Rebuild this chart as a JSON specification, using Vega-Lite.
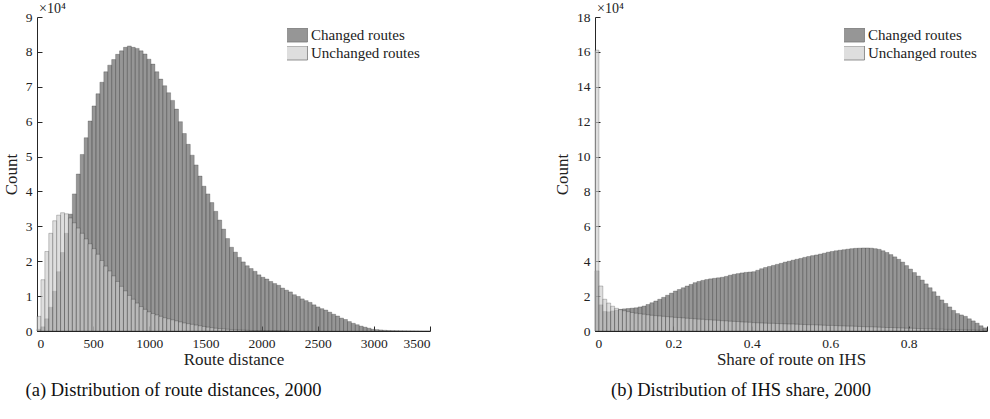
{
"$schema": "https://vega.github.io/schema/vega-lite/v6.json",
"background": "white",
"padding": {"left": 2, "top": 2, "right": 0, "bottom": 2},
"config": {
  "font": "Liberation Serif",
  "view": {"stroke": null},
  "axis": {"grid": false, "domainColor": "#262626", "tickColor": "#262626", "labelColor": "#222222", "titleColor": "#222222", "labelFont": "Liberation Serif", "titleFont": "Liberation Serif", "labelFontSize": 13.5, "titleFontSize": 17, "titleFontWeight": "normal", "tickSize": -5, "domainWidth": 1, "tickWidth": 1, "labelPadding": 10, "labelOverlap": false},
  "legend": {"labelFont": "Liberation Serif", "labelFontSize": 15, "labelColor": "#222222", "symbolType": "M-1.857,-1H1.857V1H-1.857Z", "symbolSize": 196, "symbolOpacity": 0.65, "symbolStrokeColor": "#333333", "symbolStrokeWidth": 0.8, "labelOffset": 9, "rowPadding": 3, "clipHeight": 14, "title": null, "orient": "none"},
  "title": {"font": "Liberation Serif", "fontSize": 18.5, "fontWeight": "normal", "color": "#111111"}
},
"datasets": {
"da": [
{"s":"Changed routes","lo":0,"hi":35,"n":500},
{"s":"Changed routes","lo":35,"hi":70,"n":1200},
{"s":"Changed routes","lo":70,"hi":105,"n":3500},
{"s":"Changed routes","lo":105,"hi":140,"n":6800},
{"s":"Changed routes","lo":140,"hi":175,"n":11400},
{"s":"Changed routes","lo":175,"hi":210,"n":17000},
{"s":"Changed routes","lo":210,"hi":245,"n":22500},
{"s":"Changed routes","lo":245,"hi":280,"n":28000},
{"s":"Changed routes","lo":280,"hi":315,"n":33500},
{"s":"Changed routes","lo":315,"hi":350,"n":39300},
{"s":"Changed routes","lo":350,"hi":385,"n":45000},
{"s":"Changed routes","lo":385,"hi":420,"n":50600},
{"s":"Changed routes","lo":420,"hi":455,"n":55400},
{"s":"Changed routes","lo":455,"hi":490,"n":60200},
{"s":"Changed routes","lo":490,"hi":525,"n":64500},
{"s":"Changed routes","lo":525,"hi":560,"n":68000},
{"s":"Changed routes","lo":560,"hi":595,"n":71300},
{"s":"Changed routes","lo":595,"hi":630,"n":74300},
{"s":"Changed routes","lo":630,"hi":665,"n":76200},
{"s":"Changed routes","lo":665,"hi":700,"n":77800},
{"s":"Changed routes","lo":700,"hi":735,"n":79300},
{"s":"Changed routes","lo":735,"hi":770,"n":80300},
{"s":"Changed routes","lo":770,"hi":805,"n":81300},
{"s":"Changed routes","lo":805,"hi":840,"n":81700},
{"s":"Changed routes","lo":840,"hi":875,"n":81300},
{"s":"Changed routes","lo":875,"hi":910,"n":81000},
{"s":"Changed routes","lo":910,"hi":945,"n":80300},
{"s":"Changed routes","lo":945,"hi":980,"n":79400},
{"s":"Changed routes","lo":980,"hi":1015,"n":77900},
{"s":"Changed routes","lo":1015,"hi":1050,"n":76500},
{"s":"Changed routes","lo":1050,"hi":1085,"n":74300},
{"s":"Changed routes","lo":1085,"hi":1120,"n":72200},
{"s":"Changed routes","lo":1120,"hi":1155,"n":70300},
{"s":"Changed routes","lo":1155,"hi":1190,"n":68300},
{"s":"Changed routes","lo":1190,"hi":1225,"n":66100},
{"s":"Changed routes","lo":1225,"hi":1260,"n":63600},
{"s":"Changed routes","lo":1260,"hi":1295,"n":60000},
{"s":"Changed routes","lo":1295,"hi":1330,"n":56600},
{"s":"Changed routes","lo":1330,"hi":1365,"n":53500},
{"s":"Changed routes","lo":1365,"hi":1400,"n":50400},
{"s":"Changed routes","lo":1400,"hi":1435,"n":47600},
{"s":"Changed routes","lo":1435,"hi":1470,"n":44400},
{"s":"Changed routes","lo":1470,"hi":1505,"n":41500},
{"s":"Changed routes","lo":1505,"hi":1540,"n":39300},
{"s":"Changed routes","lo":1540,"hi":1575,"n":36800},
{"s":"Changed routes","lo":1575,"hi":1610,"n":34300},
{"s":"Changed routes","lo":1610,"hi":1645,"n":31800},
{"s":"Changed routes","lo":1645,"hi":1680,"n":29200},
{"s":"Changed routes","lo":1680,"hi":1715,"n":26500},
{"s":"Changed routes","lo":1715,"hi":1750,"n":24000},
{"s":"Changed routes","lo":1750,"hi":1785,"n":22600},
{"s":"Changed routes","lo":1785,"hi":1820,"n":21100},
{"s":"Changed routes","lo":1820,"hi":1855,"n":19800},
{"s":"Changed routes","lo":1855,"hi":1890,"n":18700},
{"s":"Changed routes","lo":1890,"hi":1925,"n":17900},
{"s":"Changed routes","lo":1925,"hi":1960,"n":17100},
{"s":"Changed routes","lo":1960,"hi":1995,"n":16100},
{"s":"Changed routes","lo":1995,"hi":2030,"n":15400},
{"s":"Changed routes","lo":2030,"hi":2065,"n":14900},
{"s":"Changed routes","lo":2065,"hi":2100,"n":14200},
{"s":"Changed routes","lo":2100,"hi":2135,"n":13600},
{"s":"Changed routes","lo":2135,"hi":2170,"n":13100},
{"s":"Changed routes","lo":2170,"hi":2205,"n":12300},
{"s":"Changed routes","lo":2205,"hi":2240,"n":11700},
{"s":"Changed routes","lo":2240,"hi":2275,"n":11200},
{"s":"Changed routes","lo":2275,"hi":2310,"n":10400},
{"s":"Changed routes","lo":2310,"hi":2345,"n":9900},
{"s":"Changed routes","lo":2345,"hi":2380,"n":9200},
{"s":"Changed routes","lo":2380,"hi":2415,"n":8700},
{"s":"Changed routes","lo":2415,"hi":2450,"n":8200},
{"s":"Changed routes","lo":2450,"hi":2485,"n":7500},
{"s":"Changed routes","lo":2485,"hi":2520,"n":6900},
{"s":"Changed routes","lo":2520,"hi":2555,"n":6400},
{"s":"Changed routes","lo":2555,"hi":2590,"n":6000},
{"s":"Changed routes","lo":2590,"hi":2625,"n":5400},
{"s":"Changed routes","lo":2625,"hi":2660,"n":4800},
{"s":"Changed routes","lo":2660,"hi":2695,"n":4300},
{"s":"Changed routes","lo":2695,"hi":2730,"n":3700},
{"s":"Changed routes","lo":2730,"hi":2765,"n":3300},
{"s":"Changed routes","lo":2765,"hi":2800,"n":2700},
{"s":"Changed routes","lo":2800,"hi":2835,"n":2200},
{"s":"Changed routes","lo":2835,"hi":2870,"n":1800},
{"s":"Changed routes","lo":2870,"hi":2905,"n":1400},
{"s":"Changed routes","lo":2905,"hi":2940,"n":1100},
{"s":"Changed routes","lo":2940,"hi":2975,"n":800},
{"s":"Changed routes","lo":2975,"hi":3010,"n":500},
{"s":"Changed routes","lo":3010,"hi":3045,"n":400},
{"s":"Changed routes","lo":3045,"hi":3080,"n":300},
{"s":"Changed routes","lo":3080,"hi":3115,"n":200},
{"s":"Changed routes","lo":3115,"hi":3150,"n":150},
{"s":"Changed routes","lo":3150,"hi":3185,"n":120},
{"s":"Changed routes","lo":3185,"hi":3220,"n":100},
{"s":"Changed routes","lo":3220,"hi":3255,"n":80},
{"s":"Changed routes","lo":3255,"hi":3290,"n":60},
{"s":"Changed routes","lo":3290,"hi":3325,"n":50},
{"s":"Changed routes","lo":3325,"hi":3360,"n":40},
{"s":"Changed routes","lo":3360,"hi":3395,"n":30},
{"s":"Changed routes","lo":3395,"hi":3430,"n":20},
{"s":"Changed routes","lo":3430,"hi":3465,"n":10},
{"s":"Changed routes","lo":3465,"hi":3500,"n":10},
{"s":"Unchanged routes","lo":0,"hi":35,"n":4200},
{"s":"Unchanged routes","lo":35,"hi":70,"n":14700},
{"s":"Unchanged routes","lo":70,"hi":105,"n":22800},
{"s":"Unchanged routes","lo":105,"hi":140,"n":28000},
{"s":"Unchanged routes","lo":140,"hi":175,"n":31600},
{"s":"Unchanged routes","lo":175,"hi":210,"n":33200},
{"s":"Unchanged routes","lo":210,"hi":245,"n":33900},
{"s":"Unchanged routes","lo":245,"hi":280,"n":33600},
{"s":"Unchanged routes","lo":280,"hi":315,"n":32400},
{"s":"Unchanged routes","lo":315,"hi":350,"n":31000},
{"s":"Unchanged routes","lo":350,"hi":385,"n":29500},
{"s":"Unchanged routes","lo":385,"hi":420,"n":28000},
{"s":"Unchanged routes","lo":420,"hi":455,"n":26400},
{"s":"Unchanged routes","lo":455,"hi":490,"n":25000},
{"s":"Unchanged routes","lo":490,"hi":525,"n":23600},
{"s":"Unchanged routes","lo":525,"hi":560,"n":22000},
{"s":"Unchanged routes","lo":560,"hi":595,"n":20200},
{"s":"Unchanged routes","lo":595,"hi":630,"n":18600},
{"s":"Unchanged routes","lo":630,"hi":665,"n":17200},
{"s":"Unchanged routes","lo":665,"hi":700,"n":15800},
{"s":"Unchanged routes","lo":700,"hi":735,"n":14200},
{"s":"Unchanged routes","lo":735,"hi":770,"n":12800},
{"s":"Unchanged routes","lo":770,"hi":805,"n":11500},
{"s":"Unchanged routes","lo":805,"hi":840,"n":10200},
{"s":"Unchanged routes","lo":840,"hi":875,"n":9100},
{"s":"Unchanged routes","lo":875,"hi":910,"n":8000},
{"s":"Unchanged routes","lo":910,"hi":945,"n":7000},
{"s":"Unchanged routes","lo":945,"hi":980,"n":6200},
{"s":"Unchanged routes","lo":980,"hi":1015,"n":5500},
{"s":"Unchanged routes","lo":1015,"hi":1050,"n":5000},
{"s":"Unchanged routes","lo":1050,"hi":1085,"n":4600},
{"s":"Unchanged routes","lo":1085,"hi":1120,"n":4200},
{"s":"Unchanged routes","lo":1120,"hi":1155,"n":3800},
{"s":"Unchanged routes","lo":1155,"hi":1190,"n":3500},
{"s":"Unchanged routes","lo":1190,"hi":1225,"n":3200},
{"s":"Unchanged routes","lo":1225,"hi":1260,"n":2900},
{"s":"Unchanged routes","lo":1260,"hi":1295,"n":2600},
{"s":"Unchanged routes","lo":1295,"hi":1330,"n":2300},
{"s":"Unchanged routes","lo":1330,"hi":1365,"n":2100},
{"s":"Unchanged routes","lo":1365,"hi":1400,"n":1900},
{"s":"Unchanged routes","lo":1400,"hi":1435,"n":1700},
{"s":"Unchanged routes","lo":1435,"hi":1470,"n":1500},
{"s":"Unchanged routes","lo":1470,"hi":1505,"n":1300},
{"s":"Unchanged routes","lo":1505,"hi":1540,"n":1100},
{"s":"Unchanged routes","lo":1540,"hi":1575,"n":950},
{"s":"Unchanged routes","lo":1575,"hi":1610,"n":800},
{"s":"Unchanged routes","lo":1610,"hi":1645,"n":700},
{"s":"Unchanged routes","lo":1645,"hi":1680,"n":600},
{"s":"Unchanged routes","lo":1680,"hi":1715,"n":500},
{"s":"Unchanged routes","lo":1715,"hi":1750,"n":400},
{"s":"Unchanged routes","lo":1750,"hi":1785,"n":350},
{"s":"Unchanged routes","lo":1785,"hi":1820,"n":300},
{"s":"Unchanged routes","lo":1820,"hi":1855,"n":250},
{"s":"Unchanged routes","lo":1855,"hi":1890,"n":200},
{"s":"Unchanged routes","lo":1890,"hi":1925,"n":150},
{"s":"Unchanged routes","lo":1925,"hi":1960,"n":120},
{"s":"Unchanged routes","lo":1960,"hi":1995,"n":100},
{"s":"Unchanged routes","lo":1995,"hi":2030,"n":80},
{"s":"Unchanged routes","lo":2030,"hi":2065,"n":60},
{"s":"Unchanged routes","lo":2065,"hi":2100,"n":50},
{"s":"Unchanged routes","lo":2100,"hi":2135,"n":40},
{"s":"Unchanged routes","lo":2135,"hi":2170,"n":30},
{"s":"Unchanged routes","lo":2170,"hi":2205,"n":20},
{"s":"Unchanged routes","lo":2205,"hi":2240,"n":10}
],
"db": [
{"s":"Changed routes","lo":0,"hi":0.01,"n":34500},
{"s":"Changed routes","lo":0.01,"hi":0.02,"n":15000},
{"s":"Changed routes","lo":0.02,"hi":0.03,"n":11200},
{"s":"Changed routes","lo":0.03,"hi":0.04,"n":11000},
{"s":"Changed routes","lo":0.04,"hi":0.05,"n":11500},
{"s":"Changed routes","lo":0.05,"hi":0.06,"n":12000},
{"s":"Changed routes","lo":0.06,"hi":0.07,"n":12400},
{"s":"Changed routes","lo":0.07,"hi":0.08,"n":12700},
{"s":"Changed routes","lo":0.08,"hi":0.09,"n":12900},
{"s":"Changed routes","lo":0.09,"hi":0.10,"n":13100},
{"s":"Changed routes","lo":0.10,"hi":0.11,"n":13300},
{"s":"Changed routes","lo":0.11,"hi":0.12,"n":13800},
{"s":"Changed routes","lo":0.12,"hi":0.13,"n":14300},
{"s":"Changed routes","lo":0.13,"hi":0.14,"n":15200},
{"s":"Changed routes","lo":0.14,"hi":0.15,"n":16200},
{"s":"Changed routes","lo":0.15,"hi":0.16,"n":17200},
{"s":"Changed routes","lo":0.16,"hi":0.17,"n":18200},
{"s":"Changed routes","lo":0.17,"hi":0.18,"n":19300},
{"s":"Changed routes","lo":0.18,"hi":0.19,"n":20500},
{"s":"Changed routes","lo":0.19,"hi":0.20,"n":21700},
{"s":"Changed routes","lo":0.20,"hi":0.21,"n":22900},
{"s":"Changed routes","lo":0.21,"hi":0.22,"n":23800},
{"s":"Changed routes","lo":0.22,"hi":0.23,"n":24800},
{"s":"Changed routes","lo":0.23,"hi":0.24,"n":25800},
{"s":"Changed routes","lo":0.24,"hi":0.25,"n":26700},
{"s":"Changed routes","lo":0.25,"hi":0.26,"n":27700},
{"s":"Changed routes","lo":0.26,"hi":0.27,"n":28400},
{"s":"Changed routes","lo":0.27,"hi":0.28,"n":29000},
{"s":"Changed routes","lo":0.28,"hi":0.29,"n":29500},
{"s":"Changed routes","lo":0.29,"hi":0.30,"n":29900},
{"s":"Changed routes","lo":0.30,"hi":0.31,"n":30200},
{"s":"Changed routes","lo":0.31,"hi":0.32,"n":30500},
{"s":"Changed routes","lo":0.32,"hi":0.33,"n":30800},
{"s":"Changed routes","lo":0.33,"hi":0.34,"n":31300},
{"s":"Changed routes","lo":0.34,"hi":0.35,"n":32000},
{"s":"Changed routes","lo":0.35,"hi":0.36,"n":32500},
{"s":"Changed routes","lo":0.36,"hi":0.37,"n":32900},
{"s":"Changed routes","lo":0.37,"hi":0.38,"n":33300},
{"s":"Changed routes","lo":0.38,"hi":0.39,"n":33600},
{"s":"Changed routes","lo":0.39,"hi":0.40,"n":33800},
{"s":"Changed routes","lo":0.40,"hi":0.41,"n":34000},
{"s":"Changed routes","lo":0.41,"hi":0.42,"n":34800},
{"s":"Changed routes","lo":0.42,"hi":0.43,"n":35700},
{"s":"Changed routes","lo":0.43,"hi":0.44,"n":36400},
{"s":"Changed routes","lo":0.44,"hi":0.45,"n":37000},
{"s":"Changed routes","lo":0.45,"hi":0.46,"n":37600},
{"s":"Changed routes","lo":0.46,"hi":0.47,"n":38200},
{"s":"Changed routes","lo":0.47,"hi":0.48,"n":38800},
{"s":"Changed routes","lo":0.48,"hi":0.49,"n":39500},
{"s":"Changed routes","lo":0.49,"hi":0.50,"n":40000},
{"s":"Changed routes","lo":0.50,"hi":0.51,"n":40600},
{"s":"Changed routes","lo":0.51,"hi":0.52,"n":41100},
{"s":"Changed routes","lo":0.52,"hi":0.53,"n":41600},
{"s":"Changed routes","lo":0.53,"hi":0.54,"n":42200},
{"s":"Changed routes","lo":0.54,"hi":0.55,"n":42700},
{"s":"Changed routes","lo":0.55,"hi":0.56,"n":43200},
{"s":"Changed routes","lo":0.56,"hi":0.57,"n":43600},
{"s":"Changed routes","lo":0.57,"hi":0.58,"n":44100},
{"s":"Changed routes","lo":0.58,"hi":0.59,"n":44600},
{"s":"Changed routes","lo":0.59,"hi":0.60,"n":45200},
{"s":"Changed routes","lo":0.60,"hi":0.61,"n":45600},
{"s":"Changed routes","lo":0.61,"hi":0.62,"n":46000},
{"s":"Changed routes","lo":0.62,"hi":0.63,"n":46300},
{"s":"Changed routes","lo":0.63,"hi":0.64,"n":46600},
{"s":"Changed routes","lo":0.64,"hi":0.65,"n":46900},
{"s":"Changed routes","lo":0.65,"hi":0.66,"n":47200},
{"s":"Changed routes","lo":0.66,"hi":0.67,"n":47400},
{"s":"Changed routes","lo":0.67,"hi":0.68,"n":47500},
{"s":"Changed routes","lo":0.68,"hi":0.69,"n":47600},
{"s":"Changed routes","lo":0.69,"hi":0.70,"n":47600},
{"s":"Changed routes","lo":0.70,"hi":0.71,"n":47500},
{"s":"Changed routes","lo":0.71,"hi":0.72,"n":47200},
{"s":"Changed routes","lo":0.72,"hi":0.73,"n":46800},
{"s":"Changed routes","lo":0.73,"hi":0.74,"n":46000},
{"s":"Changed routes","lo":0.74,"hi":0.75,"n":45000},
{"s":"Changed routes","lo":0.75,"hi":0.76,"n":43800},
{"s":"Changed routes","lo":0.76,"hi":0.77,"n":42500},
{"s":"Changed routes","lo":0.77,"hi":0.78,"n":41100},
{"s":"Changed routes","lo":0.78,"hi":0.79,"n":39500},
{"s":"Changed routes","lo":0.79,"hi":0.80,"n":37500},
{"s":"Changed routes","lo":0.80,"hi":0.81,"n":35500},
{"s":"Changed routes","lo":0.81,"hi":0.82,"n":33500},
{"s":"Changed routes","lo":0.82,"hi":0.83,"n":31500},
{"s":"Changed routes","lo":0.83,"hi":0.84,"n":29200},
{"s":"Changed routes","lo":0.84,"hi":0.85,"n":27000},
{"s":"Changed routes","lo":0.85,"hi":0.86,"n":24800},
{"s":"Changed routes","lo":0.86,"hi":0.87,"n":22500},
{"s":"Changed routes","lo":0.87,"hi":0.88,"n":20000},
{"s":"Changed routes","lo":0.88,"hi":0.89,"n":17800},
{"s":"Changed routes","lo":0.89,"hi":0.90,"n":15800},
{"s":"Changed routes","lo":0.90,"hi":0.91,"n":13800},
{"s":"Changed routes","lo":0.91,"hi":0.92,"n":11800},
{"s":"Changed routes","lo":0.92,"hi":0.93,"n":10000},
{"s":"Changed routes","lo":0.93,"hi":0.94,"n":9200},
{"s":"Changed routes","lo":0.94,"hi":0.95,"n":8400},
{"s":"Changed routes","lo":0.95,"hi":0.96,"n":7000},
{"s":"Changed routes","lo":0.96,"hi":0.97,"n":5800},
{"s":"Changed routes","lo":0.97,"hi":0.98,"n":4500},
{"s":"Changed routes","lo":0.98,"hi":0.99,"n":3000},
{"s":"Changed routes","lo":0.99,"hi":1.00,"n":1800},
{"s":"Unchanged routes","lo":0,"hi":0.01,"n":161000},
{"s":"Unchanged routes","lo":0.01,"hi":0.02,"n":25800},
{"s":"Unchanged routes","lo":0.02,"hi":0.03,"n":18200},
{"s":"Unchanged routes","lo":0.03,"hi":0.04,"n":16000},
{"s":"Unchanged routes","lo":0.04,"hi":0.05,"n":14200},
{"s":"Unchanged routes","lo":0.05,"hi":0.06,"n":13000},
{"s":"Unchanged routes","lo":0.06,"hi":0.07,"n":12200},
{"s":"Unchanged routes","lo":0.07,"hi":0.08,"n":11600},
{"s":"Unchanged routes","lo":0.08,"hi":0.09,"n":11100},
{"s":"Unchanged routes","lo":0.09,"hi":0.10,"n":10600},
{"s":"Unchanged routes","lo":0.10,"hi":0.11,"n":10200},
{"s":"Unchanged routes","lo":0.11,"hi":0.12,"n":9900},
{"s":"Unchanged routes","lo":0.12,"hi":0.13,"n":9600},
{"s":"Unchanged routes","lo":0.13,"hi":0.14,"n":9300},
{"s":"Unchanged routes","lo":0.14,"hi":0.15,"n":9000},
{"s":"Unchanged routes","lo":0.15,"hi":0.16,"n":8800},
{"s":"Unchanged routes","lo":0.16,"hi":0.17,"n":8600},
{"s":"Unchanged routes","lo":0.17,"hi":0.18,"n":8400},
{"s":"Unchanged routes","lo":0.18,"hi":0.19,"n":8200},
{"s":"Unchanged routes","lo":0.19,"hi":0.20,"n":8000},
{"s":"Unchanged routes","lo":0.20,"hi":0.21,"n":7800},
{"s":"Unchanged routes","lo":0.21,"hi":0.22,"n":7700},
{"s":"Unchanged routes","lo":0.22,"hi":0.23,"n":7500},
{"s":"Unchanged routes","lo":0.23,"hi":0.24,"n":7300},
{"s":"Unchanged routes","lo":0.24,"hi":0.25,"n":7200},
{"s":"Unchanged routes","lo":0.25,"hi":0.26,"n":7000},
{"s":"Unchanged routes","lo":0.26,"hi":0.27,"n":6800},
{"s":"Unchanged routes","lo":0.27,"hi":0.28,"n":6700},
{"s":"Unchanged routes","lo":0.28,"hi":0.29,"n":6500},
{"s":"Unchanged routes","lo":0.29,"hi":0.30,"n":6400},
{"s":"Unchanged routes","lo":0.30,"hi":0.31,"n":6200},
{"s":"Unchanged routes","lo":0.31,"hi":0.32,"n":6100},
{"s":"Unchanged routes","lo":0.32,"hi":0.33,"n":5900},
{"s":"Unchanged routes","lo":0.33,"hi":0.34,"n":5800},
{"s":"Unchanged routes","lo":0.34,"hi":0.35,"n":5600},
{"s":"Unchanged routes","lo":0.35,"hi":0.36,"n":5500},
{"s":"Unchanged routes","lo":0.36,"hi":0.37,"n":5400},
{"s":"Unchanged routes","lo":0.37,"hi":0.38,"n":5200},
{"s":"Unchanged routes","lo":0.38,"hi":0.39,"n":5100},
{"s":"Unchanged routes","lo":0.39,"hi":0.40,"n":5000},
{"s":"Unchanged routes","lo":0.40,"hi":0.41,"n":4800},
{"s":"Unchanged routes","lo":0.41,"hi":0.42,"n":4700},
{"s":"Unchanged routes","lo":0.42,"hi":0.43,"n":4600},
{"s":"Unchanged routes","lo":0.43,"hi":0.44,"n":4500},
{"s":"Unchanged routes","lo":0.44,"hi":0.45,"n":4400},
{"s":"Unchanged routes","lo":0.45,"hi":0.46,"n":4400},
{"s":"Unchanged routes","lo":0.46,"hi":0.47,"n":4300},
{"s":"Unchanged routes","lo":0.47,"hi":0.48,"n":4200},
{"s":"Unchanged routes","lo":0.48,"hi":0.49,"n":4100},
{"s":"Unchanged routes","lo":0.49,"hi":0.50,"n":4000},
{"s":"Unchanged routes","lo":0.50,"hi":0.51,"n":4000},
{"s":"Unchanged routes","lo":0.51,"hi":0.52,"n":3900},
{"s":"Unchanged routes","lo":0.52,"hi":0.53,"n":3800},
{"s":"Unchanged routes","lo":0.53,"hi":0.54,"n":3700},
{"s":"Unchanged routes","lo":0.54,"hi":0.55,"n":3600},
{"s":"Unchanged routes","lo":0.55,"hi":0.56,"n":3600},
{"s":"Unchanged routes","lo":0.56,"hi":0.57,"n":3500},
{"s":"Unchanged routes","lo":0.57,"hi":0.58,"n":3400},
{"s":"Unchanged routes","lo":0.58,"hi":0.59,"n":3300},
{"s":"Unchanged routes","lo":0.59,"hi":0.60,"n":3200},
{"s":"Unchanged routes","lo":0.60,"hi":0.61,"n":3200},
{"s":"Unchanged routes","lo":0.61,"hi":0.62,"n":3100},
{"s":"Unchanged routes","lo":0.62,"hi":0.63,"n":3000},
{"s":"Unchanged routes","lo":0.63,"hi":0.64,"n":2900},
{"s":"Unchanged routes","lo":0.64,"hi":0.65,"n":2800},
{"s":"Unchanged routes","lo":0.65,"hi":0.66,"n":2800},
{"s":"Unchanged routes","lo":0.66,"hi":0.67,"n":2700},
{"s":"Unchanged routes","lo":0.67,"hi":0.68,"n":2600},
{"s":"Unchanged routes","lo":0.68,"hi":0.69,"n":2500},
{"s":"Unchanged routes","lo":0.69,"hi":0.70,"n":2400},
{"s":"Unchanged routes","lo":0.70,"hi":0.71,"n":2400},
{"s":"Unchanged routes","lo":0.71,"hi":0.72,"n":2300},
{"s":"Unchanged routes","lo":0.72,"hi":0.73,"n":2200},
{"s":"Unchanged routes","lo":0.73,"hi":0.74,"n":2100},
{"s":"Unchanged routes","lo":0.74,"hi":0.75,"n":2000},
{"s":"Unchanged routes","lo":0.75,"hi":0.76,"n":2000},
{"s":"Unchanged routes","lo":0.76,"hi":0.77,"n":1900},
{"s":"Unchanged routes","lo":0.77,"hi":0.78,"n":1800},
{"s":"Unchanged routes","lo":0.78,"hi":0.79,"n":1700},
{"s":"Unchanged routes","lo":0.79,"hi":0.80,"n":1600},
{"s":"Unchanged routes","lo":0.80,"hi":0.81,"n":1600},
{"s":"Unchanged routes","lo":0.81,"hi":0.82,"n":1500},
{"s":"Unchanged routes","lo":0.82,"hi":0.83,"n":1400},
{"s":"Unchanged routes","lo":0.83,"hi":0.84,"n":1300},
{"s":"Unchanged routes","lo":0.84,"hi":0.85,"n":1200},
{"s":"Unchanged routes","lo":0.85,"hi":0.86,"n":1200},
{"s":"Unchanged routes","lo":0.86,"hi":0.87,"n":1100},
{"s":"Unchanged routes","lo":0.87,"hi":0.88,"n":1000},
{"s":"Unchanged routes","lo":0.88,"hi":0.89,"n":1000},
{"s":"Unchanged routes","lo":0.89,"hi":0.90,"n":900},
{"s":"Unchanged routes","lo":0.90,"hi":0.91,"n":900},
{"s":"Unchanged routes","lo":0.91,"hi":0.92,"n":800},
{"s":"Unchanged routes","lo":0.92,"hi":0.93,"n":800},
{"s":"Unchanged routes","lo":0.93,"hi":0.94,"n":700},
{"s":"Unchanged routes","lo":0.94,"hi":0.95,"n":700},
{"s":"Unchanged routes","lo":0.95,"hi":0.96,"n":600},
{"s":"Unchanged routes","lo":0.96,"hi":0.97,"n":600},
{"s":"Unchanged routes","lo":0.97,"hi":0.98,"n":500},
{"s":"Unchanged routes","lo":0.98,"hi":0.99,"n":500},
{"s":"Unchanged routes","lo":0.99,"hi":1.00,"n":400}
]
},
"spacing": 122,
"hconcat": [
{
  "width": 393, "height": 314,
  "title": {"text": "(a) Distribution of route distances, 2000", "orient": "bottom", "anchor": "middle", "dx": -60, "offset": 13},
  "layer": [
    {
      "data": {"name": "da"},
      "mark": {"type": "bar", "fillOpacity": 0.65, "stroke": "#1a1a1a", "strokeWidth": 0.6, "strokeOpacity": 0.4},
      "encoding": {
        "x": {"field": "lo", "type": "quantitative", "scale": {"domain": [0, 3500], "nice": false, "zero": false, "padding": 0},
              "axis": {"values": [0, 500, 1000, 1500, 2000, 2500, 3000, 3500], "format": "d", "title": "Route distance", "titlePadding": 2, "labelOverlap": false}},
        "x2": {"field": "hi"},
        "y": {"field": "n", "type": "quantitative", "stack": null, "scale": {"domain": [0, 90000], "nice": false, "padding": 0},
              "axis": {"tickCount": 9, "labelExpr": "'' + datum.value / 10000", "title": "Count", "titlePadding": 5, "labelOverlap": false, "labelBound": false, "labelFlush": false}},
        "y2": {"datum": 0},
        "color": {"field": "s", "type": "nominal", "scale": {"domain": ["Changed routes", "Unchanged routes"], "range": ["#5e5e5e", "#cccccc"]},
                  "legend": {"orient": "none", "legendX": 250, "legendY": 11}}
      }
    },
    {
      "data": {"values": [{}]},
      "mark": {"type": "text", "text": "×10⁴", "align": "left", "baseline": "alphabetic", "dx": 2, "dy": -4, "fontSize": 14, "font": "Liberation Serif", "color": "#222222"},
      "encoding": {"x": {"datum": 0}, "y": {"datum": 90000}}
    }
  ]
},
{
  "width": 392, "height": 314,
  "title": {"text": "(b) Distribution of IHS share, 2000", "orient": "bottom", "anchor": "middle", "dx": -50, "offset": 13},
  "layer": [
    {
      "data": {"name": "db"},
      "mark": {"type": "bar", "fillOpacity": 0.65, "stroke": "#1a1a1a", "strokeWidth": 0.6, "strokeOpacity": 0.4},
      "encoding": {
        "x": {"field": "lo", "type": "quantitative", "scale": {"domain": [0, 1], "nice": false, "zero": false, "padding": 0},
              "axis": {"values": [0, 0.2, 0.4, 0.6, 0.8, 1], "labelExpr": "datum.value == 1 ? '' : (datum.value == 0 ? '0' : format(datum.value, '.1f'))", "title": "Share of route on IHS", "titlePadding": 2, "labelOverlap": false}},
        "x2": {"field": "hi"},
        "y": {"field": "n", "type": "quantitative", "stack": null, "scale": {"domain": [0, 180000], "nice": false, "padding": 0},
              "axis": {"tickCount": 9, "labelExpr": "'' + datum.value / 10000", "title": "Count", "titlePadding": 5, "labelOverlap": false, "labelBound": false, "labelFlush": false}},
        "y2": {"datum": 0},
        "color": {"field": "s", "type": "nominal", "scale": {"domain": ["Changed routes", "Unchanged routes"], "range": ["#5e5e5e", "#cccccc"]},
                  "legend": {"orient": "none", "legendX": 249, "legendY": 11}}
      }
    },
    {
      "data": {"values": [{}]},
      "mark": {"type": "text", "text": "×10⁴", "align": "left", "baseline": "alphabetic", "dx": 2, "dy": -4, "fontSize": 14, "font": "Liberation Serif", "color": "#222222"},
      "encoding": {"x": {"datum": 0}, "y": {"datum": 180000}}
    }
  ]
}
],
"resolve": {"scale": {"color": "independent"}}
}
